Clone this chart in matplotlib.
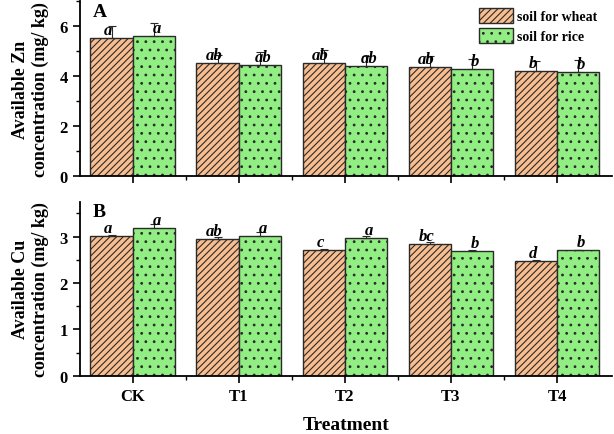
import numpy as np
import matplotlib
matplotlib.use('Agg')
import matplotlib.pyplot as plt
from matplotlib.ticker import MultipleLocator

treatments = ['CK', 'T1', 'T2', 'T3', 'T4']

zn_wheat = [5.52, 4.54, 4.53, 4.38, 4.20]
zn_wheat_err = [0.50, 0.30, 0.50, 0.43, 0.42]
zn_rice = [5.61, 4.45, 4.39, 4.28, 4.16]
zn_rice_err = [0.53, 0.52, 0.42, 0.42, 0.47]
zn_wheat_lab = ['a', 'ab', 'ab', 'ab', 'b']
zn_rice_lab = ['a', 'ab', 'ab', 'b', 'b']

cu_wheat = [3.01, 2.94, 2.71, 2.84, 2.48]
cu_wheat_err = [0.03, 0.04, 0.03, 0.04, 0.02]
cu_rice = [3.18, 3.01, 2.97, 2.68, 2.70]
cu_rice_err = [0.08, 0.08, 0.04, 0.04, 0.02]
cu_wheat_lab = ['a', 'ab', 'c', 'bc', 'd']
cu_rice_lab = ['a', 'a', 'a', 'b', 'b']

plt.rcParams['font.family'] = ['Liberation Serif', 'DejaVu Serif']
plt.rcParams['font.weight'] = 'bold'
plt.rcParams['hatch.linewidth'] = 0.8
plt.rcParams['hatch.color'] = '#2a2a2a'

wheat_col = '#F9BE90'
rice_col = '#90EE82'
edge = '#2a2a2a'
w = 0.4
x = np.arange(len(treatments))

fig = plt.figure(figsize=(6.14, 4.35), dpi=100)
ax1 = fig.add_axes([0.130, 0.593, 0.867, 0.402])
ax2 = fig.add_axes([0.130, 0.134, 0.867, 0.400])


def panel(ax, wv, we, rv, re, wl, rl, ymax, major, minor, tag):
    b1 = ax.bar(x - w / 2, wv, w, color=wheat_col, edgecolor=edge, hatch='/////',
                linewidth=1, label='soil for wheat')
    b2 = ax.bar(x + w / 2, rv, w, color=rice_col, edgecolor=edge, hatch='..',
                linewidth=1, label='soil for rice')
    ax.errorbar(x - w / 2, wv, yerr=[np.zeros(5), we], fmt='none', ecolor=edge,
                elinewidth=0.8, capsize=3, capthick=0.8)
    ax.errorbar(x + w / 2, rv, yerr=[np.zeros(5), re], fmt='none', ecolor=edge,
                elinewidth=0.8, capsize=3, capthick=0.8)
    for i in range(5):
        ax.text(x[i] - w / 2 - 0.03, wv[i], wl[i], ha='center', va='bottom',
                style='italic', fontsize=12, fontweight='bold')
        ax.text(x[i] + w / 2 + 0.03, rv[i], rl[i], ha='center', va='bottom',
                style='italic', fontsize=12, fontweight='bold')
    ax.set_xlim(-0.5, 4.52)
    ax.set_ylim(0, ymax)
    ax.yaxis.set_major_locator(MultipleLocator(major))
    ax.yaxis.set_minor_locator(MultipleLocator(minor))
    ax.set_xticks(x)
    ax.set_xticks(x[:-1] + 0.5, minor=True)
    for s in ['top', 'right']:
        ax.spines[s].set_visible(False)
    for s in ['left', 'bottom']:
        ax.spines[s].set_linewidth(1.3)
    ax.tick_params(which='major', direction='out', length=5, width=1.2, labelsize=12)
    ax.tick_params(which='minor', direction='out', length=3, width=1.0)
    ax.text(0.025, 0.99, tag, transform=ax.transAxes, ha='left', va='top',
            fontsize=14, fontweight='bold')
    return b1, b2


b1, b2 = panel(ax1, zn_wheat, zn_wheat_err, zn_rice, zn_rice_err,
               zn_wheat_lab, zn_rice_lab, 7.0, 2, 1, 'A')
ax1.set_xticklabels([])
ax1.set_ylabel('Available Zn\nconcentration (mg/ kg)', fontsize=13, fontweight='bold',
               labelpad=8)
ax1.legend(loc='upper right', frameon=False, fontsize=10, handlelength=2.4,
           handleheight=1.3, borderaxespad=0.1, labelspacing=0.3, handletextpad=0.3,
           bbox_to_anchor=(0.985, 1.0))

panel(ax2, cu_wheat, cu_wheat_err, cu_rice, cu_rice_err,
      cu_wheat_lab, cu_rice_lab, 3.75, 1, 0.5, 'B')
ax2.set_xticklabels(treatments)
ax2.set_ylabel('Available Cu\nconcentration (mg/ kg)', fontsize=13, fontweight='bold',
               labelpad=8)
ax2.set_xlabel('Treatment', fontsize=14, fontweight='bold', labelpad=9)

fig.savefig('out.png', dpi=100)
